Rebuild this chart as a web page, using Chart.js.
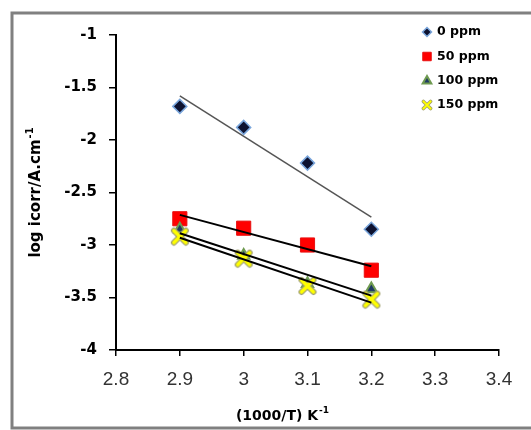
<!DOCTYPE html>
<html>
<head>
<meta charset="utf-8">
<script src="https://cdn.jsdelivr.net/npm/chart.js@4.4.1/dist/chart.umd.min.js"></script>
<style>
  html, body { margin: 0; padding: 0; background: #fff; }
  #wrap { width: 531px; height: 430px; }
</style>
</head>
<body>
<div id="wrap"><canvas id="chart" width="531" height="430"></canvas></div>
<script>
// 1000/T (K^-1) and log icorr
const invTemp = [2.9, 3.0, 3.1, 3.2];
const seriesNames = ["0 ppm", "50 ppm", "100 ppm", "150 ppm"];
const logIcorr0 = [-1.68, -1.88, -2.22, -2.85];
const logIcorr50 = [-2.75, -2.84, -3.00, -3.24];
const logIcorr100 = [-2.85, -3.10, -3.37, -3.42];
const logIcorr150 = [-2.92, -3.13, -3.39, -3.52];
const xTicks = [2.8, 2.9, 3.0, 3.1, 3.2, 3.3, 3.4];
const yTicks = [-4, -3.5, -3, -2.5, -2, -1.5, -1];

const boldFont = "'DejaVu Sans', sans-serif";

// yellow "x" marker like the Excel one
function makeCross(size, outer, inner) {
  const c = document.createElement("canvas");
  c.width = size; c.height = size;
  const g = c.getContext("2d");
  const p = size * 0.2;
  const drawX = () => {
    g.beginPath();
    g.moveTo(p, p); g.lineTo(size - p, size - p);
    g.moveTo(size - p, p); g.lineTo(p, size - p);
    g.stroke();
  };
  g.lineCap = "round";
  g.strokeStyle = "#a0a070"; g.lineWidth = outer; drawX();
  g.strokeStyle = "#ffff00"; g.lineWidth = inner; drawX();
  return c;
}
const crossBig = makeCross(20, 6, 3.5);
const crossSmall = makeCross(12, 3.5, 2);

// least squares line between first and last x
function trend(xs, ys) {
  const n = xs.length;
  const mx = xs.reduce((a, b) => a + b, 0) / n;
  const my = ys.reduce((a, b) => a + b, 0) / n;
  let sxy = 0, sxx = 0;
  xs.forEach((x, i) => { sxy += (x - mx) * (ys[i] - my); sxx += (x - mx) * (x - mx); });
  const b = sxy / sxx;
  const a = my - b * mx;
  const x0 = xs[0], x1 = xs[n - 1];
  return [{ x: x0, y: a + b * x0 }, { x: x1, y: a + b * x1 }];
}

const toPoints = (ys) => invTemp.map((x, i) => ({ x: x, y: ys[i] }));

const markerSets = [
  { label: seriesNames[0], data: toPoints(logIcorr0), pointStyle: "rectRot", pointRadius: 7,
    backgroundColor: "#0d1230", borderColor: "#7aa6dc", pointBorderWidth: 1.5, order: 4,
    legend: { pointStyle: "rectRot", radius: 4.5 } },
  { label: seriesNames[1], data: toPoints(logIcorr50), pointStyle: "rect", pointRadius: 10,
    backgroundColor: "#ff0000", borderColor: "#e81010", pointBorderWidth: 1, order: 3,
    legend: { pointStyle: "rect", radius: 6 } },
  { label: seriesNames[2], data: toPoints(logIcorr100), pointStyle: "triangle", pointRadius: 6.5,
    backgroundColor: "#1f3a64", borderColor: "#6e9a50", pointBorderWidth: 2, order: 2,
    legend: { pointStyle: "triangle", radius: 5 } },
  { label: seriesNames[3], data: toPoints(logIcorr150), pointStyle: crossBig, pointRadius: 9,
    backgroundColor: "#ffff00", borderColor: "#ffff00", pointBorderWidth: 1, order: 1,
    legend: { pointStyle: crossSmall, radius: 6 } }
];

const trendColors = ["#555555", "#000000", "#000000", "#000000"];
const trendWidths = [1.5, 2, 2, 2];
const allSeries = [logIcorr0, logIcorr50, logIcorr100, logIcorr150];

const datasets = markerSets.map((m) => ({
  type: "scatter",
  label: m.label,
  data: m.data,
  pointStyle: m.pointStyle,
  pointRadius: m.pointRadius,
  pointBackgroundColor: m.backgroundColor,
  pointBorderColor: m.borderColor,
  pointBorderWidth: m.pointBorderWidth,
  showLine: false,
  order: m.order
}));

allSeries.forEach((ys, i) => {
  datasets.push({
    type: "line",
    label: "trend " + seriesNames[i],
    data: trend(invTemp, ys),
    borderColor: trendColors[i],
    borderWidth: trendWidths[i],
    pointRadius: 0,
    fill: false,
    order: 0
  });
});

// grey frame around the whole chart
const framePlugin = {
  id: "frame",
  beforeDraw(chart) {
    const ctx = chart.ctx;
    ctx.save();
    ctx.fillStyle = "#ffffff";
    ctx.fillRect(0, 0, chart.width, chart.height);
    ctx.strokeStyle = "#808080";
    ctx.lineWidth = 3;
    ctx.strokeRect(12, 13, chart.width + 20, 415);
    ctx.restore();
  }
};

// text with a small superscript after it
function drawSupText(ctx, main, sup, size) {
  ctx.font = "bold " + size + "px " + boldFont;
  const wMain = ctx.measureText(main).width;
  ctx.font = "bold " + Math.round(size * 0.65) + "px " + boldFont;
  const wSup = ctx.measureText(sup).width;
  let x = -(wMain + wSup) / 2;
  ctx.textBaseline = "middle";
  ctx.textAlign = "left";
  ctx.font = "bold " + size + "px " + boldFont;
  ctx.fillText(main, x, 0);
  ctx.font = "bold " + Math.round(size * 0.65) + "px " + boldFont;
  ctx.fillText(sup, x + wMain + 1, -size * 0.35);
}

const titlesPlugin = {
  id: "axisTitles",
  afterDraw(chart) {
    const ctx = chart.ctx;
    ctx.save();
    ctx.fillStyle = "#000";
    ctx.translate(282, 416);
    drawSupText(ctx, "(1000/T) K", "-1", 14);
    ctx.restore();

    ctx.save();
    ctx.fillStyle = "#000";
    ctx.translate(36, 193);
    ctx.rotate(-Math.PI / 2);
    drawSupText(ctx, "log icorr/A.cm", "-1", 15);
    ctx.restore();
  }
};

// legend inside the plot, top right
const legendPlugin = {
  id: "insideLegend",
  afterDraw(chart) {
    const ctx = chart.ctx;
    const rows = [32, 56.5, 81, 105];
    ctx.save();
    markerSets.forEach((m, i) => {
      ctx.fillStyle = m.backgroundColor;
      ctx.strokeStyle = m.borderColor;
      ctx.lineWidth = m.pointBorderWidth;
      Chart.helpers.drawPoint(ctx, {
        pointStyle: m.legend.pointStyle,
        radius: m.legend.radius,
        rotation: 0,
        borderWidth: m.pointBorderWidth
      }, 427, rows[i]);
      ctx.fillStyle = "#000";
      ctx.font = "bold 12.5px " + boldFont;
      ctx.textAlign = "left";
      ctx.textBaseline = "middle";
      ctx.fillText(m.label, 437, rows[i]);
    });
    ctx.restore();
  }
};

new Chart(document.getElementById("chart"), {
  data: { datasets: datasets },
  options: {
    responsive: false,
    animation: false,
    layout: { padding: { left: 0, right: 32, top: 35, bottom: 0 } },
    plugins: {
      legend: { display: false },
      tooltip: { enabled: false }
    },
    scales: {
      x: {
        type: "linear",
        min: 2.8,
        max: 3.4,
        afterBuildTicks: (s) => { s.ticks = xTicks.map((v) => ({ value: v })); },
        afterFit: (s) => { s.height = 80; },
        border: { color: "#000", width: 2 },
        grid: { drawOnChartArea: false, drawTicks: true, tickLength: 6, color: "#000", lineWidth: 1.5 },
        ticks: {
          padding: 12,
          color: "#333",
          font: { family: "'Liberation Sans', Arial, sans-serif", size: 19 },
          maxRotation: 0,
          callback: (v) => String(Number(v.toFixed(1)))
        }
      },
      y: {
        type: "linear",
        min: -4,
        max: -1,
        afterBuildTicks: (s) => { s.ticks = yTicks.map((v) => ({ value: v })); },
        afterFit: (s) => { s.width = 116; },
        border: { color: "#000", width: 2 },
        grid: { drawOnChartArea: false, drawTicks: true, tickLength: 7, color: "#000", lineWidth: 1.5 },
        ticks: {
          padding: 12,
          color: "#000",
          font: { family: boldFont, size: 15, weight: "bold" },
          callback: (v) => String(v)
        }
      }
    }
  },
  plugins: [framePlugin, titlesPlugin, legendPlugin]
});
</script>
</body>
</html>
